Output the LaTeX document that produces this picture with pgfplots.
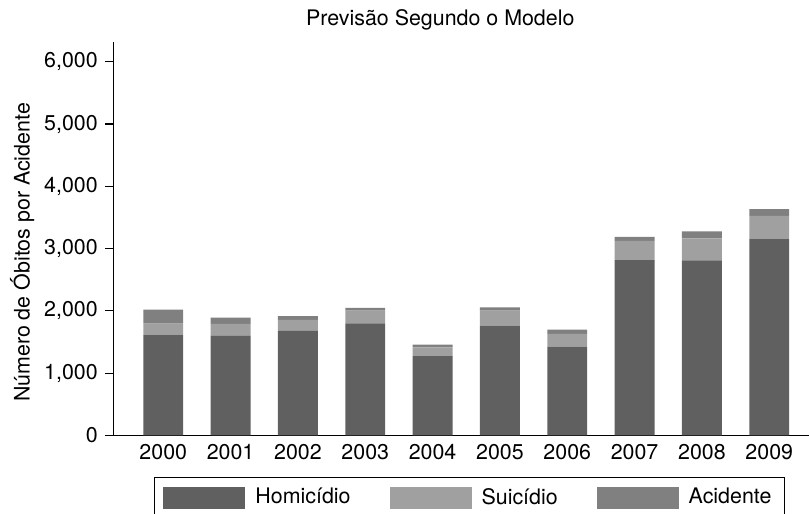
\documentclass[border=0pt]{standalone}
\usepackage{pgfplots}
\pgfplotsset{compat=1.18}
\usepackage{pgfplotstable}
\usepackage{fontspec}
\setmainfont{TeX Gyre Heros}

\definecolor{homic}{RGB}{96,96,96}
\definecolor{suic}{RGB}{160,160,160}
\definecolor{acid}{RGB}{128,128,128}

% ano (0 = 2000), homicidio, suicidio, acidente
\pgfplotstableread{
x   hom   sui   aci
0   1620  175   225
1   1600  190   100
2   1680  175   60
3   1800  205   45
4   1275  140   45
5   1765  240   50
6   1425  205   70
7   2815  310   65
8   2810  355   110
9   3150  375   110
}\dados

\begin{document}
\fontsize{10.7}{12.8}\selectfont
\begin{tikzpicture}
\useasboundingbox (-56.65pt,-39.25pt) rectangle (348.35pt,217.75pt);
\begin{axis}[
  at={(0,0)}, anchor=south west,
  scale only axis,
  clip=false,
  width=347.85pt, height=196.75pt,
  ybar stacked,
  bar width=0.593,
  xmin=-0.742, xmax=9.59,
  ymin=0, ymax=6316,
  axis x line*=bottom,
  axis y line*=left,
  axis line style={line width=0.6pt, -},
  xtick={0,...,9},
  xticklabels={2000,2001,2002,2003,2004,2005,2006,2007,2008,2009},
  x tick style={draw=none},
  ytick={0,1000,...,6000},
  tick align=outside,
  major tick length=4pt,
  y tick style={line width=0.6pt, black},
  /pgf/number format/assume math mode=true,
  /pgf/number format/1000 sep={,},
  scaled y ticks=false,
  tick label style={font=\fontsize{10.7}{12.8}\selectfont},
  x tick label style={yshift=3.5pt},
  ylabel={Número de Óbitos por Acidente},
  ylabel style={at={(axis description cs:-0.131,0.465)}, anchor=center, font=\fontsize{10.7}{12.8}\selectfont},
  legend columns=3,
  legend style={at={(axis description cs:0.0585,-0.1047)}, anchor=north west,
    draw=black, line width=0.5pt, inner xsep=4.5pt, inner ysep=3.5pt,
    font=\fontsize{10.7}{12.8}\selectfont,
    /tikz/every odd column/.append style={column sep=3pt},
    /tikz/every even column/.append style={column sep=17.5pt},
    cells={anchor=west}},
  legend image code/.code={\fill[#1] (0pt,-5.5pt) rectangle (41pt,5.5pt);},
]
\addplot[fill=homic, draw=none] table[x=x, y=hom] {\dados};
\addplot[fill=suic, draw=none] table[x=x, y=sui] {\dados};
\addplot[fill=acid, draw=none] table[x=x, y=aci] {\dados};
\legend{Homicídio, Suicídio, Acidente}
\draw[line width=0.6pt] (axis description cs:-0.012,0) -- (axis description cs:0,0);
\node[font=\fontsize{10.7}{12.8}\selectfont] at (axis description cs:0.47,1.056) {Previsão Segundo o Modelo};
\end{axis}
\end{tikzpicture}
\end{document}
